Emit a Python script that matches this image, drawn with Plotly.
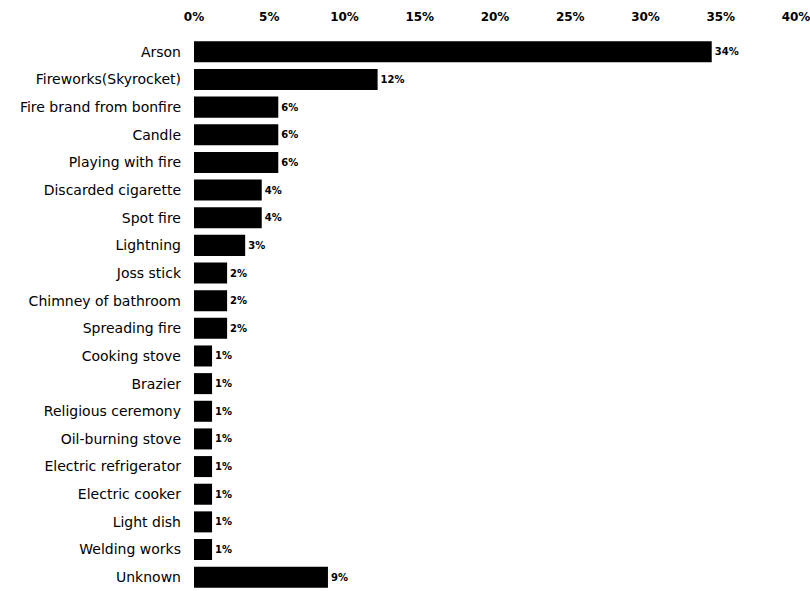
import plotly.graph_objects as go

categories = ["Arson", "Fireworks(Skyrocket)", "Fire brand from bonfire", "Candle",
              "Playing with fire", "Discarded cigarette", "Spot fire", "Lightning",
              "Joss stick", "Chimney of bathroom", "Spreading fire", "Cooking stove",
              "Brazier", "Religious ceremony", "Oil-burning stove", "Electric refrigerator",
              "Electric cooker", "Light dish", "Welding works", "Unknown"]
values = [34.4, 12.2, 5.6, 5.6, 5.6, 4.5, 4.5, 3.4, 2.2, 2.2, 2.2,
          1.2, 1.2, 1.2, 1.2, 1.2, 1.2, 1.2, 1.2, 8.9]
value_labels = ["34%", "12%", "6%", "6%", "6%", "4%", "4%", "3%", "2%", "2%", "2%",
                "1%", "1%", "1%", "1%", "1%", "1%", "1%", "1%", "9%"]
tick_vals = [0, 5, 10, 15, 20, 25, 30, 35, 40]
tick_text = ["0%", "5%", "10%", "15%", "20%", "25%", "30%", "35%", "40%"]

fig = go.Figure(go.Bar(
    x=values, y=categories, orientation="h",
    marker=dict(color="black", line=dict(width=0)),
    width=0.76,
    text=value_labels, textposition="outside", cliponaxis=False,
    textfont=dict(family="DejaVu Sans", size=10, color="black", weight="bold"),
))

fig.update_layout(
    width=810, height=591,
    margin=dict(l=194, r=11, t=38, b=0),
    paper_bgcolor="white", plot_bgcolor="white",
    showlegend=False,
    bargap=0.24,
    font=dict(family="DejaVu Sans", color="black"),
)
fig.update_xaxes(
    range=[0, 40], side="top", tickvals=tick_vals, ticktext=tick_text,
    showgrid=False, zeroline=False, showline=False, ticks="",
    ticklabeloverflow="allow", ticklabelstandoff=14,
    tickfont=dict(size=12, weight="bold"),
)
fig.update_yaxes(
    autorange="reversed", showgrid=False, showline=False, ticks="",
    ticklabelstandoff=12,
    tickfont=dict(size=14),
)

fig.write_html("out.html")
